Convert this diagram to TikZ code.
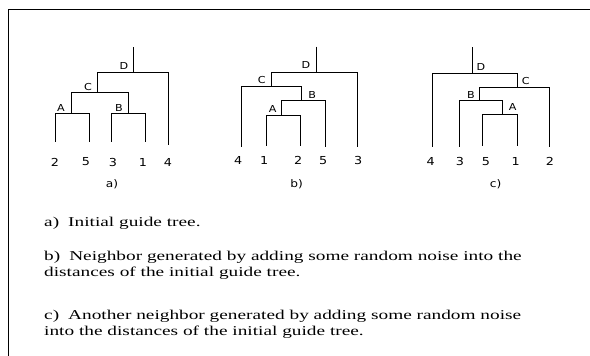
\documentclass[tikz,border=0pt]{standalone}
\usepackage{fontspec}
\setmainfont{Liberation Serif}
\newfontfamily\capfont[FakeStretch=1.43]{Liberation Serif}
\newfontfamily\lblfont[FakeStretch=1.16]{DejaVu Sans}
\begin{document}
\begin{tikzpicture}[x=1pt,y=-1pt,
  br/.style={line width=1pt},
  frameline/.style={line width=0.9pt},
  inl/.style={font=\lblfont\fontsize{9.6}{10}\selectfont, inner sep=0pt},
  leaf/.style={font=\lblfont\fontsize{11}{12}\selectfont, inner sep=0pt},
  sub/.style={font=\lblfont\fontsize{10.5}{12}\selectfont, inner sep=0pt},
  captext/.style={font=\capfont\fontsize{13.5}{16}\selectfont, inner sep=0pt, anchor=base west}]
\useasboundingbox (0,0) rectangle (590,356);
% frame
\coordinate (fl) at (8,356);
\coordinate (fc) at (8,9);
\coordinate (fr) at (590,9);
\draw[frameline] (fl) -- (fc) -- (fr);

% ---------- tree a ----------
\coordinate (aT) at (133.3,47);
\coordinate (aD) at (133.3,72);
\coordinate (aC) at (97.7,92);
\coordinate (aA) at (71.7,113);
\coordinate (aB) at (128.3,113);
\coordinate (a4) at (168.3,145);
\coordinate (a2) at (55,142);
\coordinate (a5) at (89.3,142);
\coordinate (a3) at (111,142);
\coordinate (a1) at (145.7,142);
\draw[br] (aT) -- (aD);
\draw[br] (aD) -| (aC);
\draw[br] (aD) -| (a4);
\draw[br] (aC) -| (aA);
\draw[br] (aC) -| (aB);
\draw[br] (aA) -| (a2);
\draw[br] (aA) -| (a5);
\draw[br] (aB) -| (a3);
\draw[br] (aB) -| (a1);
\node[inl] (aDl) at (123.8,66) {D};
\node[inl] (aCl) at (88,87) {C};
\node[inl] (aAl) at (61,108) {A};
\node[inl] (aBl) at (119,108) {B};
\node[leaf] (a2l) at (55,162) {2};
\node[leaf] (a5l) at (86,162) {5};
\node[leaf] (a3l) at (113,162) {3};
\node[leaf] (a1l) at (143,162) {1};
\node[leaf] (a4l) at (168,162) {4};
\node[sub] (acap) at (112,184) {a)};

% ---------- tree b ----------
\coordinate (bT) at (316,46.7);
\coordinate (bD) at (316,72.7);
\coordinate (bC) at (271.7,86.7);
\coordinate (bB) at (301.7,100.7);
\coordinate (bA) at (281.7,115);
\coordinate (b3) at (357.7,147);
\coordinate (b4) at (241,147);
\coordinate (b5) at (325,147);
\coordinate (b1) at (266,146);
\coordinate (b2) at (300,146);
\draw[br] (bT) -- (bD);
\draw[br] (bD) -| (bC);
\draw[br] (bD) -| (b3);
\draw[br] (bC) -| (b4);
\draw[br] (bC) -| (bB);
\draw[br] (bB) -| (bA);
\draw[br] (bB) -| (b5);
\draw[br] (bA) -| (b1);
\draw[br] (bA) -| (b2);
\node[inl] (bDl) at (306,65) {D};
\node[inl] (bCl) at (261.7,80) {C};
\node[inl] (bBl) at (312.3,95) {B};
\node[inl] (bAl) at (272.7,109.3) {A};
\node[leaf] (b4l) at (238.3,160.7) {4};
\node[leaf] (b1l) at (264.3,160.7) {1};
\node[leaf] (b2l) at (298.3,160.7) {2};
\node[leaf] (b5l) at (323.3,160.7) {5};
\node[leaf] (b3l) at (358.3,160.7) {3};
\node[sub] (bcap) at (296.7,184) {b)};

% ---------- tree c ----------
\coordinate (cT) at (472.7,47.3);
\coordinate (cD) at (472.7,73.3);
\coordinate (cC) at (517.7,87.3);
\coordinate (cB) at (479.3,100.7);
\coordinate (cA) at (502.7,114.3);
\coordinate (c4) at (432.7,147);
\coordinate (c2) at (549,147);
\coordinate (c3) at (459.3,147);
\coordinate (c5) at (482.7,146);
\coordinate (c1) at (517.7,146);
\draw[br] (cT) -- (cD);
\draw[br] (cD) -| (c4);
\draw[br] (cD) -| (cC);
\draw[br] (cC) -| (cB);
\draw[br] (cC) -| (c2);
\draw[br] (cB) -| (c3);
\draw[br] (cB) -| (cA);
\draw[br] (cA) -| (c5);
\draw[br] (cA) -| (c1);
\node[inl] (cDl) at (481,66.7) {D};
\node[inl] (cCl) at (525.7,80.7) {C};
\node[inl] (cBl) at (471,95) {B};
\node[inl] (cAl) at (512.7,107.3) {A};
\node[leaf] (c4l) at (430.7,161.7) {4};
\node[leaf] (c3l) at (460,161.7) {3};
\node[leaf] (c5l) at (486,161.7) {5};
\node[leaf] (c1l) at (515.7,161.7) {1};
\node[leaf] (c2l) at (550,161.7) {2};
\node[sub] (ccap) at (495.7,184) {c)};

% ---------- captions ----------
\node[captext] (t1) at (44,226.7) {a)\hspace{9pt}Initial guide tree.};
\node[captext] (t2) at (44,260) {b)\hspace{9pt}Neighbor generated by adding some random noise into the};
\node[captext] (t3) at (44,276.7) {distances of the initial guide tree.};
\node[captext] (t4) at (44,319) {c)\hspace{9pt}Another neighbor generated by adding some random noise};
\node[captext] (t5) at (44,335.5) {into the distances of the initial guide tree.};
\end{tikzpicture}
\end{document}
